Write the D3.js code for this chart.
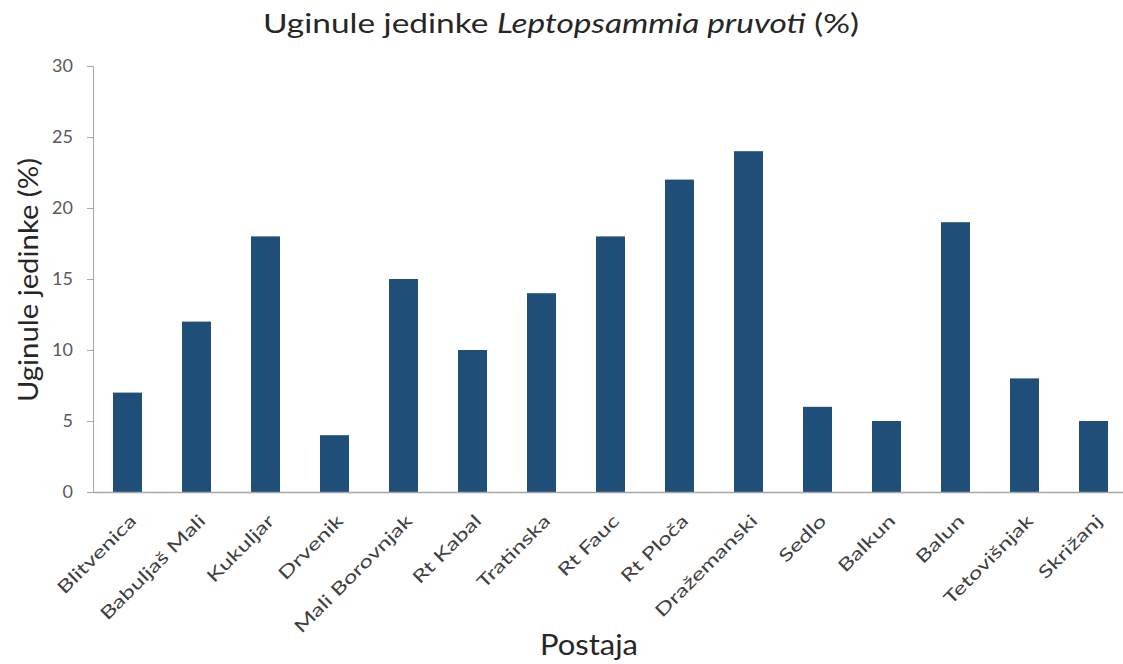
<!DOCTYPE html>
<html>
<head>
<meta charset="utf-8">
<title>Uginule jedinke Leptopsammia pruvoti</title>
<script src="https://d3js.org/d3.v7.min.js"></script>
<style>
  body { margin: 0; background: #fff; }
  svg, svg text { font-family: Lato, "Open Sans", sans-serif; }
</style>
</head>
<body>
<div id="chart"></div>
<script>
// data
var stations = ["Blitvenica", "Babuljaš Mali", "Kukuljar", "Drvenik", "Mali Borovnjak",
  "Rt Kabal", "Tratinska", "Rt Fauc", "Rt Ploča", "Dražemanski", "Sedlo", "Balkun",
  "Balun", "Tetovišnjak", "Skrižanj"];
var deadPct = [7, 12, 18, 4, 15, 10, 14, 18, 22, 24, 6, 5, 19, 8, 5];
var yTicks = [0, 5, 10, 15, 20, 25, 30];

var width = 1123, height = 664;
var margin = { top: 66, right: 0, bottom: 172, left: 93 };

var svg = d3.select("#chart").append("svg")
  .attr("width", width)
  .attr("height", height);

var x = d3.scaleBand()
  .domain(stations)
  .range([margin.left, margin.left + 69 * stations.length])
  .paddingInner(0.58)
  .paddingOuter(0.29);

var y = d3.scaleLinear()
  .domain([0, 30])
  .range([height - margin.bottom, margin.top]);

// squeeze/stretch a text horizontally so it spans `w` pixels (source font is wider than Lato)
function fitText(t, px, py, rot, w) {
  var nat = t.node().getBBox().width;
  t.attr("transform", "translate(" + px + "," + py + ") rotate(" + rot + ") scale(" + (w / nat) + ",1)");
}

// bars
svg.selectAll("rect.bar")
  .data(stations)
  .enter()
  .append("rect")
  .attr("class", "bar")
  .attr("x", function (d) { return x(d); })
  .attr("y", function (d, i) { return y(deadPct[i]); })
  .attr("width", x.bandwidth())
  .attr("height", function (d, i) { return y(0) - y(deadPct[i]); })
  .attr("fill", "#1f4e79");

// y axis
var yAxis = svg.append("g")
  .attr("transform", "translate(" + margin.left + ",0)")
  .call(d3.axisLeft(y).tickValues(yTicks).tickSize(6).tickPadding(14))
  .attr("font-family", null);
yAxis.select(".domain").attr("stroke", "#a6a6a6");
yAxis.selectAll(".tick line").attr("stroke", "#a6a6a6");
yAxis.selectAll(".tick text")
  .attr("fill", "#595959")
  .style("font-size", "18px");

// x axis
var xAxis = svg.append("g")
  .attr("transform", "translate(0," + y(0) + ")")
  .call(d3.axisBottom(x).tickSize(0).tickSizeOuter(0))
  .attr("font-family", null);
xAxis.select(".domain").attr("stroke", "#a6a6a6").attr("stroke-width", 1.5);
xAxis.selectAll(".tick text")
  .attr("fill", "#404040")
  .style("font-size", "17.5px")
  .attr("text-anchor", "end")
  .attr("dy", 0)
  .attr("y", 0)
  .attr("transform", "translate(10,30) rotate(-45) scale(1.38,1)");

// titles
var title = svg.append("text")
  .attr("text-anchor", "middle")
  .attr("fill", "#262626")
  .style("font-size", "27px");
title.append("tspan").text("Uginule jedinke ");
title.append("tspan").style("font-style", "italic").text("Leptopsammia pruvoti");
title.append("tspan").text(" (%)");
fitText(title, 561, 33, 0, 596);

var yTitle = svg.append("text")
  .attr("text-anchor", "middle")
  .attr("fill", "#262626")
  .style("font-size", "27px")
  .text("Uginule jedinke (%)");
fitText(yTitle, 38, 280, -90, 244);

var xTitle = svg.append("text")
  .attr("text-anchor", "middle")
  .attr("fill", "#262626")
  .style("font-size", "28px")
  .text("Postaja");
fitText(xTitle, 589, 655, 0, 98);
</script>
</body>
</html>
